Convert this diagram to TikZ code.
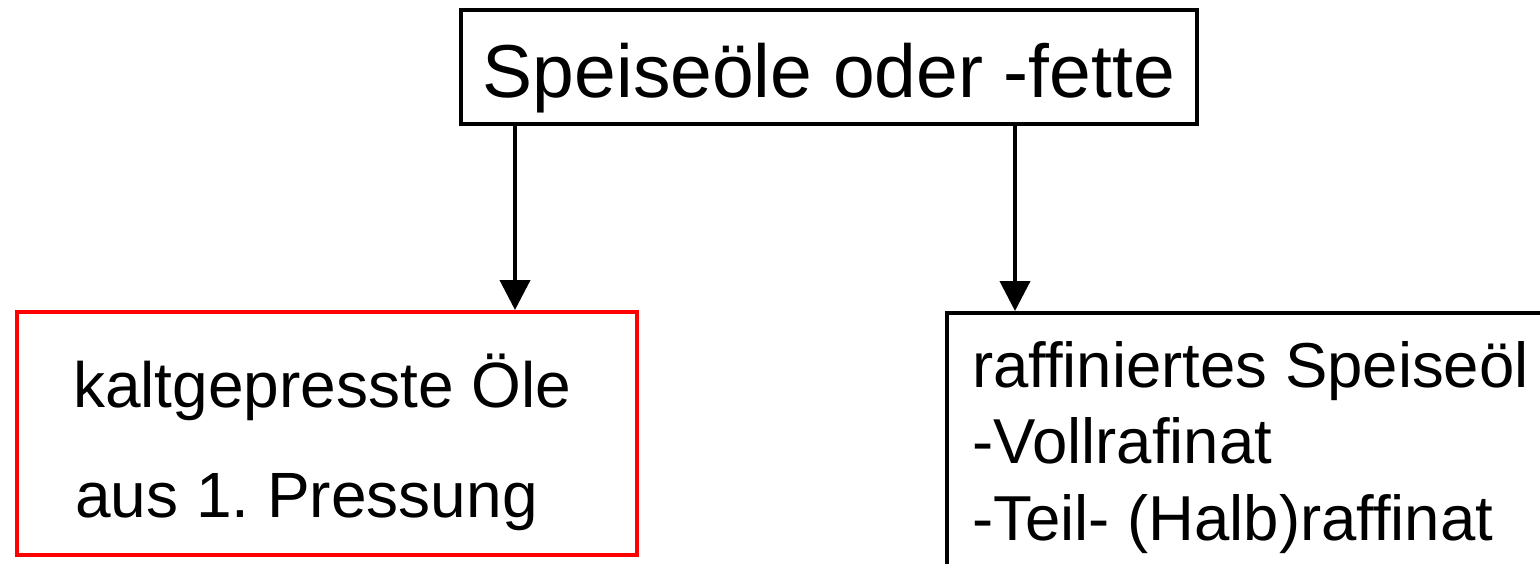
\documentclass[tikz,border=0pt]{standalone}
\usepackage{fontspec}
\setmainfont{Liberation Sans}
\usetikzlibrary{arrows.meta}
\frenchspacing
\tikzset{
  boxline/.style={line width=4pt},
  conn/.style={line width=4pt,-{Triangle[length=30pt,width=30pt]}},
  txt/.style={inner sep=0pt,anchor=base west},
  bigfont/.style={font=\fontsize{75}{90}\selectfont},
  leftfont/.style={font=\fontsize{64}{77}\selectfont},
  rightfont/.style={font=\fontsize{63.5}{76}\selectfont}
}
\begin{document}
\begin{tikzpicture}[x=1pt,y=-1pt]
\useasboundingbox (0,0) rectangle (1540,563);
\clip (0,0) rectangle (1540,563);
\node[draw,boxline,minimum width=736pt,minimum height=114pt,inner sep=0pt] (top) at (829,67) {};
\node[inner sep=0pt,anchor=base,bigfont] (toptext) at (829,97) {Speiseöle oder -fette};
\node[draw=red,boxline,minimum width=620pt,minimum height=243pt,inner sep=0pt] (left) at (327,433.5) {};
\node[txt,leftfont] (l1) at (73,407) {kaltgepresste Öle};
\node[txt,leftfont] (l2) at (75,517) {aus 1. Pressung};
\node[draw,boxline,minimum width=640pt,minimum height=300pt,inner sep=0pt] (right) at (1267,463) {};
\node[txt,rightfont] (r1) at (972,387) {raffiniertes Speiseöl};
\node[txt,rightfont] (r2) at (972,463) {-Vollrafinat};
\node[txt,rightfont] (r3) at (972,540) {-Teil- (Halb)raffinat};
\coordinate (a1) at (515,0);
\coordinate (a2) at (1015,0);
\draw[conn] (top.south -| a1) -- (left.north -| a1);
\draw[conn] (top.south -| a2) -- (right.north -| a2);
\end{tikzpicture}
\end{document}
